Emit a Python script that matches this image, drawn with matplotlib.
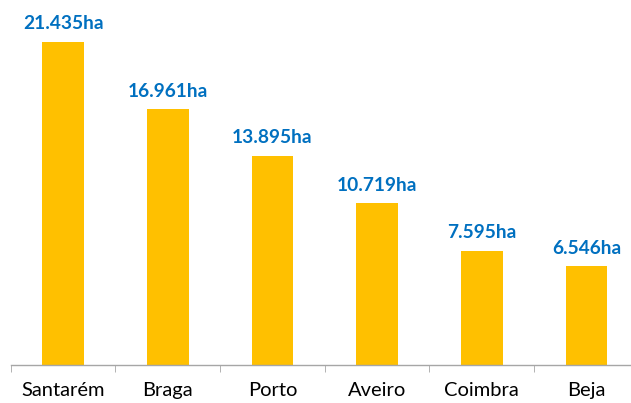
import numpy as np
import matplotlib.pyplot as plt

# Data
districts = ['Santarém', 'Braga', 'Porto', 'Aveiro', 'Coimbra', 'Beja']
area_ha = [21435, 16961, 13895, 10719, 7595, 6546]
labels = ['21.435ha', '16.961ha', '13.895ha', '10.719ha', '7.595ha', '6.546ha']

W, H = 631, 403
fig = plt.figure(figsize=(W / 100, H / 100), dpi=100)
# axes placed in pixel terms: baseline at y=365, categories ~104.7px wide from x=10.7
ax = fig.add_axes([10.7 / W, (H - 365) / H, 628.2 / W, 365 / H])

x = np.arange(len(districts))
ax.bar(x, area_ha, width=0.40, color='#FFC000')
ax.set_xlim(-0.5, len(districts) - 0.5)
ax.set_ylim(0, 21435 * 365 / 323)

for xi, v, lab in zip(x, area_ha, labels):
    ax.annotate(lab, (xi, v), xytext=(0, 7), textcoords='offset points',
                ha='center', va='bottom', fontsize=13.8, fontweight='bold',
                color='#0070C0', family='Lato')

for s in ['top', 'right', 'left']:
    ax.spines[s].set_visible(False)
ax.spines['bottom'].set_color('#A6A6A6')
ax.spines['bottom'].set_linewidth(1.0)
ax.set_yticks([])

# category labels without tick marks, ticks at the boundaries
ax.set_xticks(x)
ax.set_xticklabels(districts, fontsize=14.5, family='Lato', color='#000000')
ax.tick_params(axis='x', which='major', length=0, pad=12)
ax.set_xticks(np.arange(-0.5, len(districts) + 0.5, 1), minor=True)
ax.tick_params(axis='x', which='minor', length=5, color='#A6A6A6', direction='out')

fig.savefig('out.png', dpi=100)
